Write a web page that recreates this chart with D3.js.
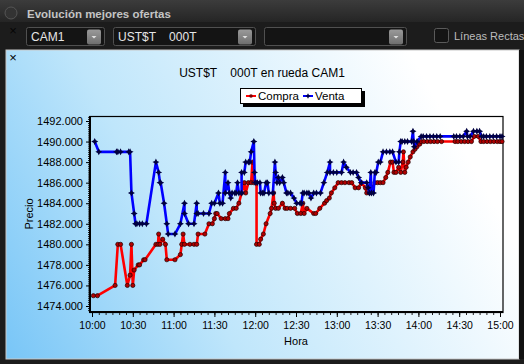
<!DOCTYPE html>
<html>
<head>
<meta charset="utf-8">
<script src="https://cdn.jsdelivr.net/npm/d3@7"></script>
<style>
  body { margin: 0; background: #1c1c1c; }
  svg { display: block; font-family: "Liberation Sans", Arial, sans-serif; }
</style>
</head>
<body>
<div id="chart"></div>
<script>
// window size
var svgWidth = 524;
var svgHeight = 364;

// plot frame
var margin = { top: 116, right: 21, bottom: 52, left: 90 };
var plotLeft = margin.left;
var plotRight = svgWidth - margin.right;
var plotTop = margin.top;
var plotBottom = svgHeight - margin.bottom;

// chart data
var seriesNames = ["Compra", "Venta"];
var seriesColors = ["#ff0000", "#0000ff"];

var yTicks = [1474, 1476, 1478, 1480, 1482, 1484, 1486, 1488, 1490, 1492];
var xTicks = ["10:00", "10:30", "11:00", "11:30", "12:00", "12:30", "13:00", "13:30", "14:00", "14:30", "15:00"];

var compraTime = ["10:01", "10:04", "10:17", "10:19", "10:21", "10:26", "10:28", "10:29", "10:30", "10:31",
  "10:34", "10:35", "10:38", "10:39", "10:47", "10:48:30", "10:49", "10:50", "10:52", "10:54",
  "10:55", "11:01", "11:05", "11:06", "11:07", "11:08", "11:12", "11:15", "11:17", "11:18",
  "11:23", "11:26", "11:28:30", "11:30", "11:31", "11:32", "11:35", "11:38", "11:40", "11:41",
  "11:44", "11:46", "11:48", "11:50", "11:52", "11:53", "11:55", "11:57", "11:58", "11:59",
  "12:01", "12:01", "12:03", "12:04", "12:06", "12:08", "12:11", "12:12", "12:13:30", "12:14",
  "12:15", "12:17", "12:20", "12:22", "12:23:30", "12:26", "12:29", "12:31", "12:33:30", "12:35",
  "12:36", "12:38", "12:43", "12:44:30", "12:47:30", "12:51", "12:52:30", "12:54:30", "12:56", "12:58:30",
  "13:01", "13:03:30", "13:06", "13:09", "13:11", "13:13:30", "13:16", "13:18", "13:21", "13:22",
  "13:24", "13:26", "13:28", "13:30", "13:32", "13:34", "13:36", "13:37:30", "13:39:30", "13:41",
  "13:42", "13:43:30", "13:45:30", "13:47", "13:48:30", "13:49", "13:50", "13:51", "13:52:30", "13:54",
  "13:56", "13:57:30", "13:59", "14:01", "14:02", "14:04", "14:06:30", "14:09", "14:11:30", "14:14",
  "14:17", "14:27", "14:29", "14:31:30", "14:34", "14:36:30", "14:39", "14:41", "14:44", "14:46",
  "14:48", "14:50:30", "14:53", "14:55:30", "14:58", "15:00", "15:01:30"];
var compraPrice = [1475, 1475, 1476, 1480, 1480, 1476, 1477, 1480, 1476, 1477.5,
  1478, 1478, 1478.5, 1478.5, 1480, 1480, 1481, 1480, 1480.5, 1480,
  1478.5, 1478.5, 1479, 1480, 1481, 1480, 1480, 1480, 1480, 1481,
  1481, 1482, 1482, 1482.5, 1483, 1483, 1482.5, 1482.5, 1482.5, 1483,
  1483.5, 1483.5, 1484, 1485, 1486, 1485, 1486, 1486, 1488, 1486,
  1486, 1480, 1480, 1480.5, 1481, 1482, 1483, 1483.5, 1485, 1484,
  1483.5, 1483.5, 1484, 1483.5, 1483.5, 1483.5, 1483.5, 1483, 1483, 1484,
  1483, 1483.5, 1483, 1483, 1483.5, 1484, 1484.25, 1484.5, 1485, 1485.5,
  1486, 1486, 1486, 1486, 1486, 1485.5, 1485.5, 1486, 1485.5, 1485,
  1485, 1485.5, 1486, 1486, 1486, 1486, 1486.5, 1487, 1488, 1488,
  1487, 1487, 1487.5, 1487, 1488, 1489, 1487, 1487.5, 1488, 1488.5,
  1489, 1489.25, 1489.5, 1489.75, 1490, 1490, 1490, 1490, 1490, 1490,
  1490, 1490, 1490, 1490, 1490, 1490, 1490, 1490.5, 1490.5, 1490,
  1490, 1490, 1490, 1490, 1490, 1490, 1490];

var ventaTime = ["10:02", "10:05", "10:18", "10:19", "10:21", "10:27", "10:28", "10:29", "10:31", "10:32",
  "10:33", "10:35", "10:37", "10:40", "10:47", "10:49", "10:50", "10:50:30", "10:53", "10:55",
  "10:56", "11:01", "11:05", "11:08", "11:08", "11:11", "11:15", "11:17", "11:17", "11:18",
  "11:22", "11:26", "11:28", "11:30", "11:33", "11:34", "11:36", "11:38", "11:38", "11:40",
  "11:41", "11:42", "11:43", "11:45", "11:46", "11:47", "11:48", "11:50", "11:50", "11:52",
  "11:53", "11:55", "11:56", "11:57", "11:59", "11:59:30", "12:00", "12:01:30", "12:03:30", "12:04",
  "12:05:30", "12:06:30", "12:08", "12:09", "12:10", "12:13", "12:14:30", "12:15", "12:16", "12:17",
  "12:18", "12:20", "12:21", "12:23", "12:24", "12:26", "12:28:30", "12:30:30", "12:33", "12:34",
  "12:35", "12:36", "12:38", "12:39:30", "12:41", "12:43", "12:45", "12:48", "12:50:30", "12:53",
  "12:55", "12:55", "12:57:30", "13:00", "13:03:30", "13:05", "13:07", "13:10", "13:12", "13:14:30",
  "13:16", "13:18", "13:22", "13:23", "13:24", "13:25", "13:25:30", "13:27", "13:28", "13:29",
  "13:30:30", "13:32", "13:34", "13:36:30", "13:39", "13:41", "13:43:30", "13:45:30", "13:46", "13:47",
  "13:48", "13:50", "13:52", "13:55", "13:56", "13:56:30", "13:57", "13:59", "14:02", "14:03:30",
  "14:06", "14:08:30", "14:11", "14:13:30", "14:16", "14:26", "14:28", "14:30:30", "14:33", "14:35:30",
  "14:36", "14:38", "14:40:30", "14:43", "14:45", "14:46:30", "14:48", "14:50", "14:52:30", "14:55",
  "14:57:30", "15:00", "15:01:30"];
var ventaPrice = [1490, 1489, 1489, 1489, 1489, 1489, 1489, 1485, 1483, 1482,
  1482, 1482, 1482, 1482, 1488, 1487, 1486, 1486, 1484, 1482,
  1481, 1481, 1482, 1484, 1483, 1482, 1482, 1484, 1483, 1483,
  1483, 1483, 1484, 1484, 1485, 1484, 1484, 1487, 1485, 1486,
  1485, 1484.5, 1485, 1485, 1485, 1486, 1485, 1485, 1487, 1487,
  1488, 1488, 1488, 1489, 1490, 1487, 1486, 1486, 1486, 1485,
  1485, 1485, 1486, 1486, 1485, 1485, 1488, 1487, 1486, 1486.5,
  1486, 1486.5, 1486, 1485, 1485, 1485, 1484.5, 1484, 1484, 1484,
  1485, 1485, 1485, 1485, 1484.5, 1485, 1485, 1485, 1486, 1487,
  1488, 1487, 1487, 1487, 1487, 1488, 1487.5, 1487, 1487, 1487,
  1486.5, 1486, 1486, 1485.5, 1485, 1487, 1485, 1485, 1487, 1487,
  1488, 1488, 1489, 1489, 1489, 1489, 1488, 1488, 1489, 1490,
  1490, 1490, 1490, 1490, 1491, 1490, 1489.5, 1490, 1490.5, 1490.5,
  1490.5, 1490.5, 1490.5, 1490.5, 1490.5, 1490.5, 1490.5, 1490.5, 1490.5, 1491,
  1490.5, 1490.5, 1491, 1491, 1491, 1490.5, 1490.5, 1490.5, 1490.5, 1490.5,
  1490.5, 1490.5, 1490.5];

function parseT(s) {
  var p = s.split(":").map(Number);
  return new Date(2020, 0, 1, p[0], p[1], p[2] || 0);
}

var compraData = compraTime.map(function(t, i) { return { t: parseT(t), v: compraPrice[i] }; });
var ventaData = ventaTime.map(function(t, i) { return { t: parseT(t), v: ventaPrice[i] }; });

var svg = d3.select("#chart")
  .append("svg")
  .attr("width", svgWidth)
  .attr("height", svgHeight);

var defs = svg.append("defs");

// panel gradient: blue bottom-left to white on the right
var grad = defs.append("linearGradient")
  .attr("id", "panelGrad")
  .attr("gradientUnits", "userSpaceOnUse")
  .attr("x1", 0).attr("y1", 420)
  .attr("x2", 470).attr("y2", 160);
grad.append("stop").attr("offset", "0").attr("stop-color", "#6cc0f6");
grad.append("stop").attr("offset", "0.45").attr("stop-color", "#bfe6fb");
grad.append("stop").attr("offset", "1").attr("stop-color", "#ffffff");

var barGrad = defs.append("linearGradient")
  .attr("id", "barGrad").attr("x1", 0).attr("y1", 0).attr("x2", 0).attr("y2", 1);
barGrad.append("stop").attr("offset", "0").attr("stop-color", "#3c3c3c");
barGrad.append("stop").attr("offset", "1").attr("stop-color", "#252525");

var btnGrad = defs.append("linearGradient")
  .attr("id", "btnGrad").attr("x1", 0).attr("y1", 0).attr("x2", 0).attr("y2", 1);
btnGrad.append("stop").attr("offset", "0").attr("stop-color", "#9a9a9a");
btnGrad.append("stop").attr("offset", "1").attr("stop-color", "#6e6e6e");

// window chrome
svg.append("rect").attr("width", svgWidth).attr("height", svgHeight).attr("fill", "#1c1c1c");
svg.append("rect").attr("x", 0).attr("y", 0).attr("width", svgWidth).attr("height", 22).attr("fill", "url(#barGrad)");
svg.append("circle").attr("cx", 11).attr("cy", 13).attr("r", 6)
  .attr("fill", "#333").attr("stroke", "#555");
svg.append("text").attr("x", 27).attr("y", 18)
  .attr("font-size", 11.5).attr("font-weight", "bold").attr("fill", "#c4c4c4")
  .text("Evolución mejores ofertas");

svg.append("text").attr("x", 13).attr("y", 35).attr("text-anchor", "middle")
  .attr("font-size", 13).attr("fill", "#050505").text("×");

// dropdowns
var combos = [
  { x: 26, w: 78, label: "CAM1" },
  { x: 113, w: 142, label: "UST$T    000T" },
  { x: 264, w: 142, label: "" }
];
combos.forEach(function(c) {
  svg.append("rect").attr("x", c.x + 0.5).attr("y", 27.5).attr("width", c.w).attr("height", 18)
    .attr("rx", 2).attr("fill", "#141414").attr("stroke", "#505050");
  svg.append("text").attr("x", c.x + 5).attr("y", 41).attr("font-size", 12)
    .attr("fill", "#e6e6e6").style("white-space", "pre").text(c.label);
  var bx = c.x + c.w - 17;
  svg.append("rect").attr("x", bx).attr("y", 29.5).attr("width", 14).attr("height", 15)
    .attr("rx", 2).attr("fill", "url(#btnGrad)");
  svg.append("path").attr("d", "M" + (bx + 4.5) + ",36 h5 l-2.5,2.5z").attr("fill", "#e0e0e0");
});
svg.append("rect").attr("x", 434.5).attr("y", 28.5).attr("width", 14).attr("height", 14)
  .attr("rx", 2).attr("fill", "#141414").attr("stroke", "#5a5a5a");
svg.append("text").attr("x", 454).attr("y", 40).attr("font-size", 11)
  .attr("fill", "#bdbdbd").text("Líneas Rectas");

// chart panel
svg.append("rect").attr("x", 6).attr("y", 50).attr("width", 513).attr("height", 309)
  .attr("fill", "url(#panelGrad)").attr("stroke", "#c8c8c8");
svg.append("rect").attr("x", 519).attr("y", 50).attr("width", 5).attr("height", 309).attr("fill", "#111");
svg.append("text").attr("x", 13).attr("y", 62).attr("text-anchor", "middle")
  .attr("font-size", 13).attr("fill", "#000").text("×");

svg.append("text").attr("x", 262).attr("y", 77).attr("text-anchor", "middle")
  .attr("font-size", 12).attr("fill", "#000").style("white-space", "pre")
  .text("UST$T    000T en rueda CAM1");

// scales
var xScale = d3.scaleTime()
  .domain([parseT("10:00"), parseT("15:00")])
  .range([92, 500]);
var yScale = d3.scaleLinear()
  .domain([1474, 1492])
  .range([306, 121]);

// frame
svg.append("rect").attr("x", plotLeft).attr("y", plotTop + 0.5)
  .attr("width", plotRight - plotLeft).attr("height", plotBottom - plotTop)
  .attr("fill", "none").attr("stroke", "#000").attr("stroke-width", 1.2);

// y axis
var minorY = d3.range(1473.6, 1492.41, 0.2);
svg.append("g").attr("transform", "translate(" + plotLeft + ",0)")
  .call(d3.axisLeft(yScale).tickValues(minorY).tickSize(2).tickFormat(""))
  .call(function(g) { g.select(".domain").remove(); g.selectAll("line").attr("stroke", "#222"); });
var yAxis = svg.append("g").attr("transform", "translate(" + plotLeft + ",0)")
  .call(d3.axisLeft(yScale).tickValues(yTicks).tickSize(4).tickPadding(3).tickFormat(d3.format(".3f")));
yAxis.select(".domain").remove();
yAxis.selectAll("text").attr("font-size", 11).attr("fill", "#000")
  .attr("font-family", "Liberation Sans, Arial, sans-serif");
svg.append("line").attr("x1", plotLeft).attr("x2", plotLeft)
  .attr("y1", plotTop).attr("y2", plotBottom + 1)
  .attr("stroke", "#000").attr("stroke-width", 2);

// x axis
var minorX = d3.range(0, 61).map(function(i) { return new Date(2020, 0, 1, 10, i * 5); });
svg.append("g").attr("transform", "translate(0," + plotBottom + ")")
  .call(d3.axisBottom(xScale).tickValues(minorX).tickSize(3).tickFormat(""))
  .call(function(g) { g.select(".domain").remove(); g.selectAll("line").attr("stroke", "#222"); });
var xAxis = svg.append("g").attr("transform", "translate(0," + plotBottom + ")")
  .call(d3.axisBottom(xScale).tickValues(xTicks.map(parseT)).tickSize(5).tickPadding(5)
    .tickFormat(d3.timeFormat("%H:%M")));
xAxis.select(".domain").remove();
xAxis.selectAll("text").attr("font-size", 10.5).attr("fill", "#000")
  .attr("font-family", "Liberation Sans, Arial, sans-serif");
svg.append("line").attr("x1", plotLeft - 1).attr("x2", plotRight)
  .attr("y1", plotBottom).attr("y2", plotBottom)
  .attr("stroke", "#000").attr("stroke-width", 2);

// axis titles
svg.append("text").attr("transform", "translate(33,214) rotate(-90)")
  .attr("text-anchor", "middle").attr("font-size", 11).attr("fill", "#000").text("Precio");
svg.append("text").attr("x", 296).attr("y", 345)
  .attr("text-anchor", "middle").attr("font-size", 11).attr("fill", "#000").text("Hora");

// lines
var line = d3.line().x(function(d) { return xScale(d.t); }).y(function(d) { return yScale(d.v); });
var starPath = "M0,-3.5L1.2,-1.2L3.5,0L1.2,1.2L0,3.5L-1.2,1.2L-3.5,0L-1.2,-1.2Z";

function drawSeries(data, color, marker) {
  svg.append("path").datum(data)
    .attr("d", line)
    .attr("fill", "none")
    .attr("stroke", color)
    .attr("stroke-width", 2.6)
    .attr("stroke-linejoin", "round");
  if (marker === "circle") {
    svg.append("g").selectAll("circle")
      .data(data).enter().append("circle")
      .attr("cx", function(d) { return xScale(d.t); })
      .attr("cy", function(d) { return yScale(d.v); })
      .attr("r", 2.1)
      .attr("fill", "#b00000")
      .attr("stroke", "#200000")
      .attr("stroke-width", 0.7);
  } else {
    svg.append("g").selectAll("path")
      .data(data).enter().append("path")
      .attr("d", starPath)
      .attr("transform", function(d) { return "translate(" + xScale(d.t) + "," + yScale(d.v) + ")"; })
      .attr("fill", "#000040");
  }
}

drawSeries(compraData, seriesColors[0], "circle");
drawSeries(ventaData, seriesColors[1], "star");

// legend
var lg = svg.append("g").attr("transform", "translate(240,88)");
lg.append("rect").attr("x", 3).attr("y", 3).attr("width", 122).attr("height", 16).attr("fill", "#000");
lg.append("rect").attr("x", 0.5).attr("y", 0.5).attr("width", 121).attr("height", 15)
  .attr("fill", "#fff").attr("stroke", "#000");
var legendX = [6, 63];
seriesNames.forEach(function(name, i) {
  var gx = legendX[i];
  lg.append("line").attr("x1", gx).attr("x2", gx + 10).attr("y1", 8).attr("y2", 8)
    .attr("stroke", seriesColors[i]).attr("stroke-width", 2);
  if (i === 0) {
    lg.append("circle").attr("cx", gx + 5).attr("cy", 8).attr("r", 1.8).attr("fill", "#7a0000");
  } else {
    lg.append("path").attr("d", starPath).attr("transform", "translate(" + (gx + 5) + ",8) scale(0.8)")
      .attr("fill", "#000040");
  }
  lg.append("text").attr("x", gx + 12).attr("y", 12).attr("font-size", 11.5)
    .attr("fill", "#000").text(name);
});
</script>
</body>
</html>
